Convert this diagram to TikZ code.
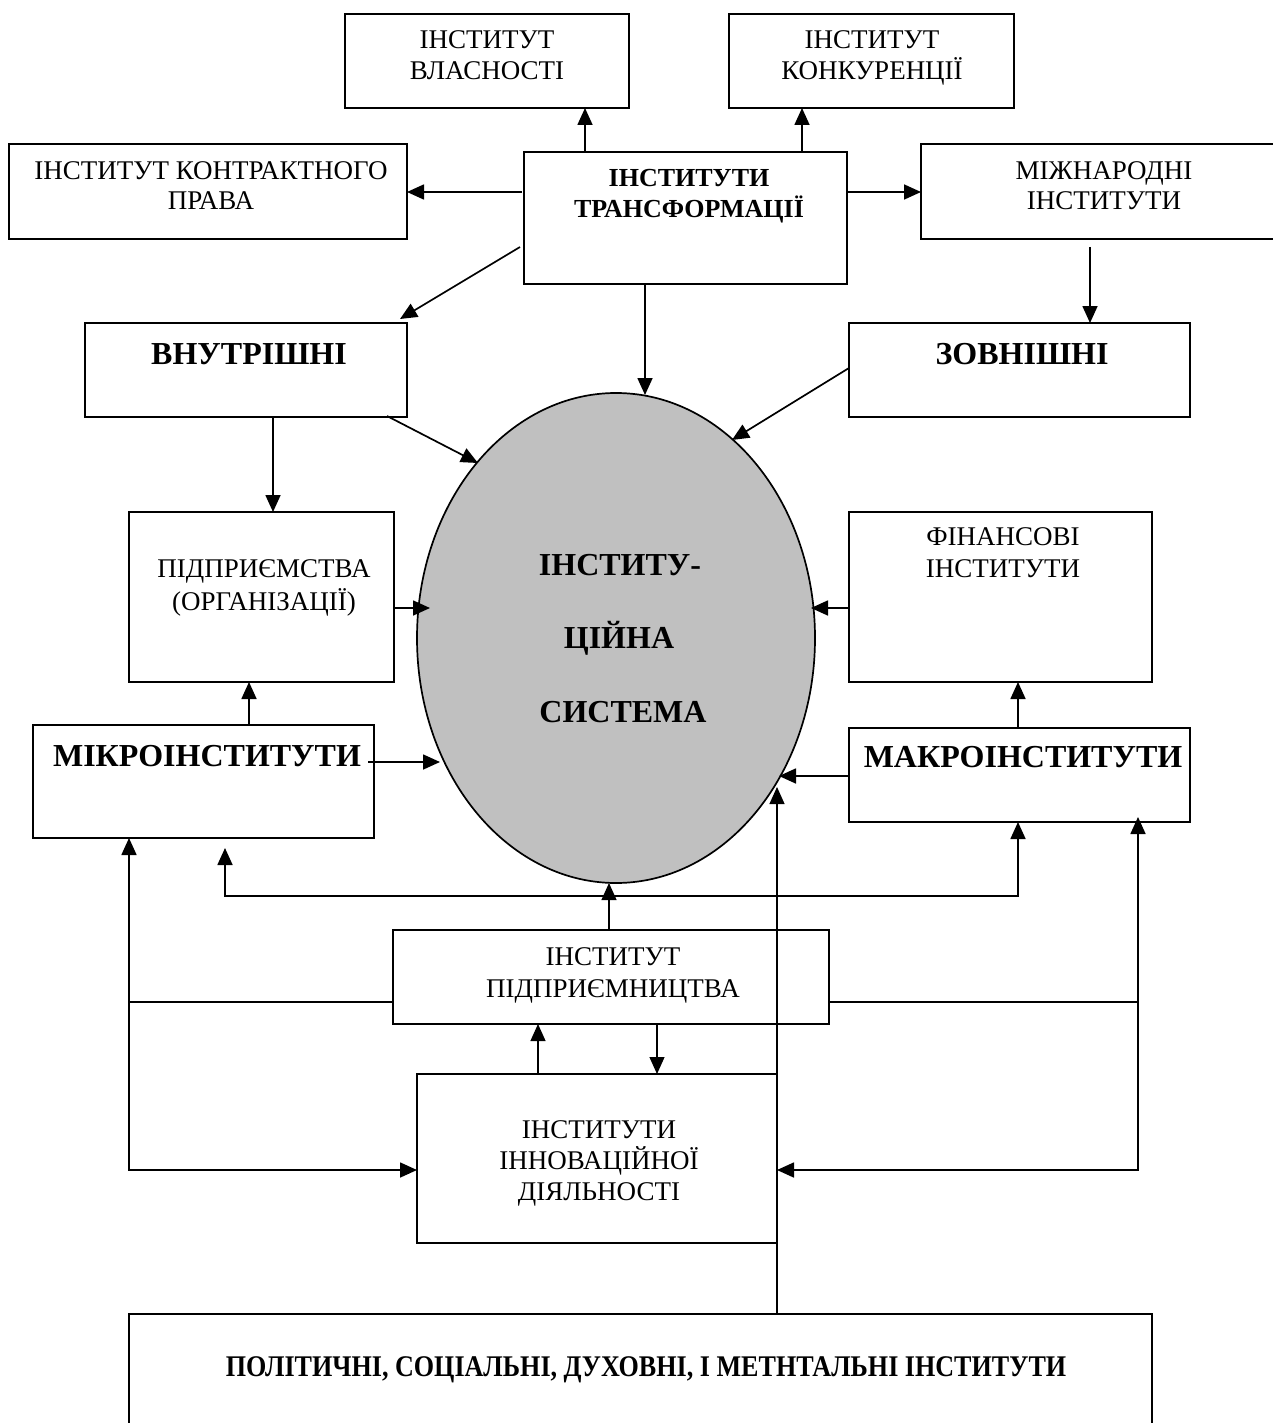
\documentclass[tikz,border=0pt]{standalone}
\usepackage{fontspec}
\setmainfont{Liberation Serif}
\usetikzlibrary{arrows.meta,shapes.geometric}
\definecolor{elgray}{RGB}{192,192,192}
\tikzset{
  box/.style={draw, line width=2pt, anchor=north west, inner sep=0pt, outer sep=0pt},
  ln/.style={line width=1.7pt},
  lnthin/.style={line width=1.2pt},
  arr/.style={line width=1.7pt, -{Triangle[length=17pt,width=15pt]}},
  arrthin/.style={line width=1.2pt, -{Triangle[length=17pt,width=15pt]}},
  txt/.style={anchor=base, inner sep=0pt, font=\fontsize{27}{31}\selectfont},
  txtb/.style={anchor=base, inner sep=0pt, font=\fontsize{26}{30}\selectfont\bfseries},
  bigb/.style={anchor=base, inner sep=0pt, font=\fontsize{32}{36}\selectfont\bfseries},
}
\begin{document}
\begin{tikzpicture}[x=1pt,y=-1pt]
\useasboundingbox (0,0) rectangle (1272,1423);
% boxes
\node[box, minimum width=284pt, minimum height=94pt] (vl) at (345,14) {};
\node[box, minimum width=285pt, minimum height=94pt] (kn) at (729,14) {};
\node[box, minimum width=398pt, minimum height=95pt] (kp) at (9,144) {};
\node[box, minimum width=323pt, minimum height=132pt] (tr) at (524,152) {};
\node[box, minimum width=366pt, minimum height=95pt] (mn) at (921,144) {};
\node[box, minimum width=322pt, minimum height=94pt] (vn) at (85,323) {};
\node[box, minimum width=341pt, minimum height=94pt] (zv) at (849,323) {};
\node[box, minimum width=265pt, minimum height=170pt] (pd) at (129,512) {};
\node[box, minimum width=303pt, minimum height=170pt] (fn) at (849,512) {};
\node[box, minimum width=341pt, minimum height=113pt] (mk) at (33,725) {};
\node[box, minimum width=341pt, minimum height=94pt] (ma) at (849,728) {};
\node[box, minimum width=436pt, minimum height=94pt] (pp) at (393,930) {};
\node[box, minimum width=360pt, minimum height=169pt] (in) at (417,1074) {};
\node[box, minimum width=1023pt, minimum height=130pt] (bt) at (129,1314) {};
% ellipse
\node[draw, ellipse, fill=elgray, line width=1.7pt, inner sep=0pt,
      minimum width=398pt, minimum height=490pt] (el) at (616,638) {};
% texts
\node[txt] (vl1) at (487,49) {ІНСТИТУТ};
\node[txt] (vl2) at (487,80) {ВЛАСНОСТІ};
\node[txt] (kn1) at (872,49) {ІНСТИТУТ};
\node[txt] (kn2) at (872,80) {КОНКУРЕНЦІЇ};
\node[txt] (kp1) at (211,180) {ІНСТИТУТ КОНТРАКТНОГО};
\node[txt] (kp2) at (211,210) {ПРАВА};
\node[txtb] (tr1) at (689,187) {ІНСТИТУТИ};
\node[txtb] (tr2) at (689,218) {ТРАНСФОРМАЦІЇ};
\node[txt] (mn1) at (1104,180) {МІЖНАРОДНІ};
\node[txt] (mn2) at (1104,210) {ІНСТИТУТИ};
\node[bigb] (vn1) at (249,364) {ВНУТРІШНІ};
\node[bigb] (zv1) at (1022,364) {ЗОВНІШНІ};
\node[txt] (pd1) at (264,577) {ПІДПРИЄМСТВА};
\node[txt] (pd2) at (264,610) {(ОРГАНІЗАЦІЇ)};
\node[txt] (fn1) at (1003,545) {ФІНАНСОВІ};
\node[txt] (fn2) at (1003,577) {ІНСТИТУТИ};
\node[bigb] (mk1) at (207,766) {МІКРОІНСТИТУТИ};
\node[bigb] (ma1) at (1023,767) {МАКРОІНСТИТУТИ};
\node[bigb] (el1) at (620,575) {ІНСТИТУ-};
\node[bigb] (el2) at (619,648) {ЦІЙНА};
\node[bigb] (el3) at (623,722) {СИСТЕМА};
\node[txt] (pp1) at (613,965) {ІНСТИТУТ};
\node[txt] (pp2) at (613,997) {ПІДПРИЄМНИЦТВА};
\node[txt] (in1) at (599,1138) {ІНСТИТУТИ};
\node[txt] (in2) at (599,1169) {ІННОВАЦІЙНОЇ};
\node[txt] (in3) at (599,1200) {ДІЯЛЬНОСТІ};
\node[anchor=base, inner sep=0pt, font=\fontsize{30}{34}\selectfont\bfseries] (bt1) at (646,1376)
  {\scalebox{0.87}[1]{ПОЛІТИЧНІ, СОЦІАЛЬНІ, ДУХОВНІ, І МЕТНТАЛЬНІ ІНСТИТУТИ}};
% coordinates on ellipse / free ends
\coordinate (eTop) at (645,395);
\coordinate (eZv) at (732,440);
\coordinate (eVn) at (478,463);
\coordinate (ePd) at (430,608);
\coordinate (eFn) at (811,608);
\coordinate (eMk) at (440,762);
\coordinate (eMa) at (779,776);
\coordinate (eBt) at (777,787);
\coordinate (eBot) at (609,883);
\coordinate (trD) at (520,247);
\coordinate (vnC) at (400,319);
\coordinate (zvS) at (849,368);
\coordinate (vnS) at (387,416);
\coordinate (tj) at (609,896);
\coordinate (uL) at (225,848);
\coordinate (lj) at (129,1002);
\coordinate (rj) at (1138,1002);
\coordinate (lb) at (129,1170);
\coordinate (rb) at (1138,1170);
\coordinate (rUp) at (1138,817);
% connectors from transformation box
\draw[arr] (585,0 |- tr.north) -- (585,0 |- vl.south);
\draw[arr] (802,0 |- tr.north) -- (802,0 |- kn.south);
\draw[arr] (522,192) -- (kp.east |- 0,192);
\draw[arr] (tr.east |- 0,192) -- (mn.west |- 0,192);
\draw[arr] (1090,247) -- (1090,0 |- zv.north);
\draw[arr] (trD) -- (vnC);
\draw[arr] (645,0 |- tr.south) -- (eTop);
\draw[arr] (zvS) -- (eZv);
\draw[arr] (vnS) -- (eVn);
\draw[arr] (273,0 |- vn.south) -- (273,0 |- pd.north);
\draw[arr] (pd.east |- ePd) -- (ePd);
\draw[arr] (fn.west |- eFn) -- (eFn);
\draw[arr] (249,0 |- mk.north) -- (249,0 |- pd.south);
\draw[arr] (368,762) -- (eMk);
\draw[arr] (1018,0 |- ma.north) -- (1018,0 |- fn.south);
\draw[arr] (ma.west |- eMa) -- (eMa);
% bottom structure
\draw[arrthin] (777,0 |- bt.north) -- (eBt);
\draw[arrthin] (609,0 |- pp.north) -- (eBot);
\draw[arr] (tj) -| (uL);
\draw[arr] (tj) -| (1018,0 |- ma.south);
\draw[ln] (pp.west |- lj) -- (lj);
\draw[arr] (lj) -- (lj |- mk.south);
\draw[arr] (lj) -- (lb) -- (in.west |- lb);
\draw[ln] (pp.east |- rj) -- (rj);
\draw[arr] (rj) -- (rUp);
\draw[arr] (rj) -- (rb) -- (in.east |- rb);
\draw[arrthin] (538,0 |- in.north) -- (538,0 |- pp.south);
\draw[arrthin] (657,0 |- pp.south) -- (657,0 |- in.north);
\end{tikzpicture}
\end{document}
